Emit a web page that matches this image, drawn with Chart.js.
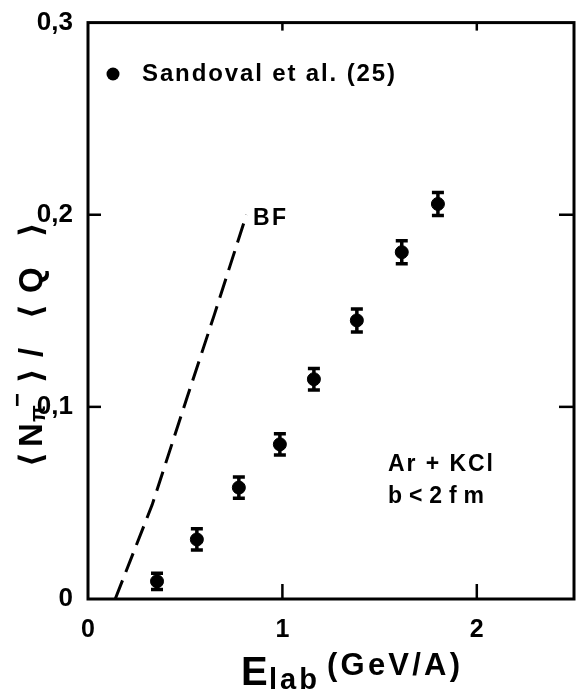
<!DOCTYPE html>
<html><head><meta charset="utf-8">
<script src="https://cdn.jsdelivr.net/npm/chart.js@4/dist/chart.umd.min.js"></script>
<style>html,body{margin:0;padding:0;background:#fff;overflow:hidden}canvas{display:block}</style>
</head><body>
<canvas id="c" width="587" height="691"></canvas>
<script>
// ---- data ----
const energies    = [0.355, 0.56, 0.776, 0.987, 1.162, 1.383, 1.614, 1.80];
const ratios      = [0.0092, 0.031, 0.058, 0.0805, 0.1144, 0.145, 0.1805, 0.2056];
const ratioErrors = [0.0042, 0.0055, 0.0055, 0.0055, 0.0056, 0.006, 0.006, 0.006];
const bfEnergies  = [0.14, 0.33, 0.51, 0.65, 0.815];
const bfRatios    = [0.0, 0.049, 0.105, 0.148, 0.2];
const xTickValues = [0, 1, 2];
const xTickLabels = ['0', '1', '2'];
const yTickValues = [0, 0.1, 0.2, 0.3];
const yTickLabels = ['0', '0,1', '0,2', '0,3'];
const seriesLabel = 'Sandoval et al. (25)';
const curveLabel  = 'BF';
const reactionLabels = ['Ar + KCl', 'b<2fm'];

const FONT = '"Liberation Sans", Arial, sans-serif';
const BRACKET_FONT = '"DejaVu Sans", sans-serif';

function drawSpread(ctx, segs, x, y, target) {
  let natural = 0, n = 0;
  segs.forEach(sg => {
    ctx.font = 'bold ' + sg.s + 'px ' + (sg.f || FONT);
    for (const ch of sg.t) { natural += ctx.measureText(ch).width; n++; }
  });
  const ls = n > 1 ? (target - natural) / (n - 1) : 0;
  let cx = x;
  segs.forEach(sg => {
    ctx.font = 'bold ' + sg.s + 'px ' + (sg.f || FONT);
    for (const ch of sg.t) {
      ctx.fillText(ch, cx, y + (sg.dy || 0));
      cx += ctx.measureText(ch).width + ls;
    }
  });
}

function fitText(ctx, text, x, y, width, size) {
  ctx.save();
  ctx.textAlign = 'left';
  ctx.textBaseline = 'middle';
  drawSpread(ctx, [{ t: text, s: size }], x, y, width);
  ctx.restore();
}

const decorations = {
  id: 'decorations',
  afterDatasetsDraw(chart) {
    const ctx = chart.ctx, a = chart.chartArea;
    const xs = chart.scales.x, ys = chart.scales.y;
    ctx.save();
    ctx.strokeStyle = '#000';
    ctx.fillStyle = '#000';
    ctx.lineCap = 'butt';
    ctx.lineWidth = 3;
    ctx.strokeRect(a.left, a.top, a.right - a.left, a.bottom - a.top);
    ctx.lineWidth = 2.5;
    yTickValues.forEach(v => {
      if (v === 0 || v === 0.3) return;
      const py = ys.getPixelForValue(v);
      ctx.beginPath(); ctx.moveTo(a.left, py); ctx.lineTo(a.left + 13, py); ctx.stroke();
      ctx.beginPath(); ctx.moveTo(a.right, py); ctx.lineTo(a.right - 15, py); ctx.stroke();
    });
    xTickValues.forEach(v => {
      if (v === 0) return;
      const px = xs.getPixelForValue(v);
      ctx.beginPath(); ctx.moveTo(px, a.bottom); ctx.lineTo(px, a.bottom - 15); ctx.stroke();
      ctx.beginPath(); ctx.moveTo(px, a.top); ctx.lineTo(px, a.top + 8); ctx.stroke();
    });
    ctx.lineWidth = 3.5;
    energies.forEach((e, i) => {
      const px = xs.getPixelForValue(e);
      const top = ys.getPixelForValue(ratios[i] + ratioErrors[i]);
      const bot = ys.getPixelForValue(ratios[i] - ratioErrors[i]);
      ctx.beginPath();
      ctx.moveTo(px, top); ctx.lineTo(px, bot);
      ctx.moveTo(px - 6, top); ctx.lineTo(px + 6, top);
      ctx.moveTo(px - 6, bot); ctx.lineTo(px + 6, bot);
      ctx.stroke();
    });
    ctx.restore();
  },
  afterDraw(chart) {
    const ctx = chart.ctx;
    ctx.save();
    ctx.fillStyle = '#000';
    // legend
    ctx.beginPath(); ctx.arc(113, 74, 6.5, 0, Math.PI * 2); ctx.fill();
    fitText(ctx, seriesLabel, 142, 74, 253, 24);
    fitText(ctx, curveLabel, 253, 219, 33, 23);
    fitText(ctx, reactionLabels[0], 388, 465, 105, 23);
    fitText(ctx, reactionLabels[1], 388, 497, 96, 23);
    // x-axis title
    ctx.textBaseline = 'alphabetic';
    ctx.textAlign = 'left';
    ctx.font = 'bold 40px ' + FONT;
    ctx.fillText('E', 241, 685);
    drawSpread(ctx, [{ t: 'lab', s: 29 }], 269, 689, 48);
    drawSpread(ctx, [{ t: '(GeV/A)', s: 31 }], 327, 675, 133);
    // y-axis title: pieces placed along the rotated baseline
    ctx.save();
    ctx.translate(42, 467);
    ctx.rotate(-Math.PI / 2);
    const pieces = [
      { t: '\u27E8', s: 32, at: 0,   dy: 0,   f: BRACKET_FONT },
      { t: 'N',      s: 33, at: 20,  dy: 0 },
      { t: '\u03C0', s: 22, at: 45,  dy: 3 },
      { t: '\u2212', s: 24, at: 60,  dy: -17 },
      { t: '\u27E9', s: 32, at: 84,  dy: 0,   f: BRACKET_FONT },
      { t: '/',      s: 33, at: 110, dy: 0 },
      { t: '\u27E8', s: 32, at: 148, dy: 0,   f: BRACKET_FONT },
      { t: 'Q',      s: 33, at: 174, dy: 0 },
      { t: '\u27E9', s: 32, at: 230, dy: 0,   f: BRACKET_FONT }
    ];
    pieces.forEach(p => {
      ctx.font = 'bold ' + p.s + 'px ' + (p.f || FONT);
      ctx.fillText(p.t, p.at, p.dy);
    });
    ctx.restore();
    ctx.restore();
  }
};

new Chart(document.getElementById('c'), {
  type: 'scatter',
  data: {
    datasets: [
      {
        label: seriesLabel,
        data: energies.map((e, i) => ({ x: e, y: ratios[i] })),
        backgroundColor: '#000',
        borderColor: '#000',
        pointRadius: 6.5,
        pointHoverRadius: 6.5,
        showLine: false
      },
      {
        label: curveLabel,
        data: bfEnergies.map((e, i) => ({ x: e, y: bfRatios[i] })),
        borderColor: '#000',
        borderWidth: 3,
        borderDash: [20, 9],
        pointRadius: 0,
        showLine: true,
        tension: 0,
        fill: false
      }
    ]
  },
  options: {
    responsive: false,
    animation: false,
    devicePixelRatio: 1,
    layout: { padding: { top: 15, right: 13, left: 0, bottom: 0 } },
    plugins: { legend: { display: false }, tooltip: { enabled: false } },
    scales: {
      x: {
        type: 'linear', min: 0, max: 2.5,
        afterBuildTicks(s) { s.ticks = xTickValues.map(v => ({ value: v })); },
        afterFit(s) { s.height = 92; },
        grid: { display: false },
        border: { display: false },
        ticks: {
          color: '#000', padding: 8,
          font: { family: FONT, size: 25, weight: 'bold' },
          maxRotation: 0,
          callback: (v) => xTickLabels[xTickValues.indexOf(v)]
        }
      },
      y: {
        type: 'linear', min: 0, max: 0.3,
        afterBuildTicks(s) { s.ticks = yTickValues.map(v => ({ value: v })); },
        afterFit(s) { s.width = 88; },
        grid: { display: false },
        border: { display: false },
        ticks: {
          color: '#000', padding: 7,
          font: { family: FONT, size: 26, weight: 'bold' },
          callback: (v) => yTickLabels[yTickValues.indexOf(v)]
        }
      }
    }
  },
  plugins: [decorations]
});
</script>
</body></html>
